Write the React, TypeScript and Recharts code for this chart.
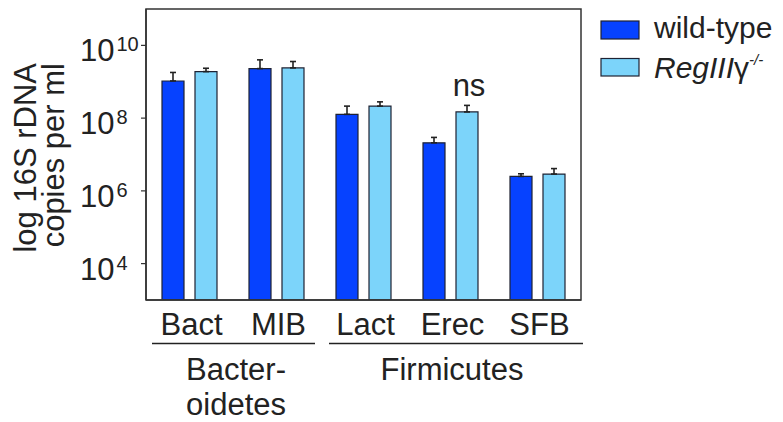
import React from 'react';
import { BarChart, Bar, XAxis, YAxis, ErrorBar, LabelList } from 'recharts';

const categories = ['Bact', 'MIB', 'Lact', 'Erec', 'SFB'];
const wildType = [1.05e9, 2.3e9, 1.27e8, 2.1e7, 2.5e6];
const wildTypeErr = [0.75e9, 1.7e9, 0.87e8, 0.85e7, 0.45e6];
const knockout = [1.9e9, 2.4e9, 2.14e8, 1.48e8, 2.9e6];
const knockoutErr = [0.45e9, 1.2e9, 0.66e8, 0.76e8, 1.2e6];
const notes = ['', '', '', 'ns', ''];
const yTicks = [1e4, 1e6, 1e8, 1e10];

const WT = '#0642ff';
const KO = '#7cd4fa';
const EDGE = '#1e2233';
const INK = '#222222';
const FONT = '"Liberation Sans", Arial, Helvetica, sans-serif';

const data = categories.map((c, i) => ({
  name: c,
  wt: wildType[i],
  wtErr: [0, wildTypeErr[i]],
  ko: knockout[i],
  koErr: [0, knockoutErr[i]],
  note: notes[i],
}));

const PowerTick = (props: any) => {
  const { x, y, payload } = props;
  const exp = Math.round(Math.log10(payload.value));
  return (
    <text x={x - 59} y={y + 16} fill={INK} fontFamily={FONT} textAnchor="start">
      <tspan fontSize={31}>10</tspan>
      <tspan fontSize={20} dx={2} dy={-10}>{exp}</tspan>
    </text>
  );
};

const CatTick = (props: any) => {
  const { x, y, payload } = props;
  return (
    <text x={x + 2} y={y + 35} fill={INK} fontFamily={FONT} fontSize={31} textAnchor="middle">
      {payload.value}
    </text>
  );
};

const Note = (props: any) => {
  const { x, y, width, value } = props;
  if (!value) return null;
  return (
    <text x={x + width / 2 + 2} y={y - 16} fill={INK} fontFamily={FONT} fontSize={31} textAnchor="middle">
      {value}
    </text>
  );
};

export default function App() {
  return (
    <div style={{ position: 'absolute', left: 0, top: 0, width: 783, height: 422, background: '#fff' }}>
      <BarChart
        width={783}
        height={422}
        data={data}
        margin={{ top: 9, right: 202, bottom: 62, left: 0 }}
        barSize={22}
        barGap={11}
      >
        <XAxis
          dataKey="name"
          height={60}
          tick={<CatTick />}
          tickLine={false}
          tickSize={0}
          tickMargin={0}
          axisLine={{ stroke: '#333', strokeWidth: 1.5 }}
        />
        <YAxis
          scale="log"
          type="number"
          domain={[1e3, 1e11]}
          allowDataOverflow
          ticks={yTicks}
          interval={0}
          width={146}
          tickSize={5}
          tick={<PowerTick />}
          tickLine={{ stroke: '#333', strokeWidth: 1.2 }}
          axisLine={{ stroke: '#333', strokeWidth: 1.5 }}
        />
        <Bar dataKey="wt" name="wild-type" fill={WT} stroke={EDGE} strokeWidth={1.2} isAnimationActive={false}>
          <ErrorBar dataKey="wtErr" width={3} stroke={INK} strokeWidth={1.6} direction="y" isAnimationActive={false} />
        </Bar>
        <Bar dataKey="ko" name="RegIIIγ-/-" fill={KO} stroke={EDGE} strokeWidth={1.2} isAnimationActive={false}>
          <ErrorBar dataKey="koErr" width={3} stroke={INK} strokeWidth={1.6} direction="y" isAnimationActive={false} />
          <LabelList dataKey="note" content={<Note />} />
        </Bar>
      </BarChart>

      <svg width={783} height={422} style={{ position: 'absolute', left: 0, top: 0, pointerEvents: 'none' }}
        fontFamily={FONT} fill={INK}>
        {/* plot frame */}
        <rect x={146} y={9} width={435} height={291} fill="none" stroke="#333" strokeWidth={1.5} />

        {/* y axis title */}
        <text transform="translate(36,63) rotate(-90)" textAnchor="end" fontSize={31}>log 16S rDNA</text>
        <text transform="translate(64,63) rotate(-90)" textAnchor="end" fontSize={31}>copies per ml</text>

        {/* phylum brackets */}
        <line x1={152} y1={343.5} x2={315} y2={343.5} stroke={INK} strokeWidth={1.6} />
        <line x1={329} y1={343.5} x2={583} y2={343.5} stroke={INK} strokeWidth={1.6} />
        <text x={236} y={380} textAnchor="middle" fontSize={31}>Bacter-</text>
        <text x={236} y={415} textAnchor="middle" fontSize={31}>oidetes</text>
        <text x={452} y={380} textAnchor="middle" fontSize={31}>Firmicutes</text>

        {/* legend */}
        <rect x={601} y={21} width={38} height={18} fill={WT} stroke={EDGE} strokeWidth={1.2} />
        <text x={654} y={38} fontSize={30}>wild-type</text>
        <rect x={601} y={58.5} width={38} height={17.5} fill={KO} stroke={EDGE} strokeWidth={1.2} />
        <text x={654} y={78} fontSize={30}>
          <tspan fontStyle="italic">RegIII</tspan>
          <tspan>γ</tspan>
          <tspan fontSize={15} dy={-13} fontStyle="italic">-/-</tspan>
        </text>
      </svg>
    </div>
  );
}
